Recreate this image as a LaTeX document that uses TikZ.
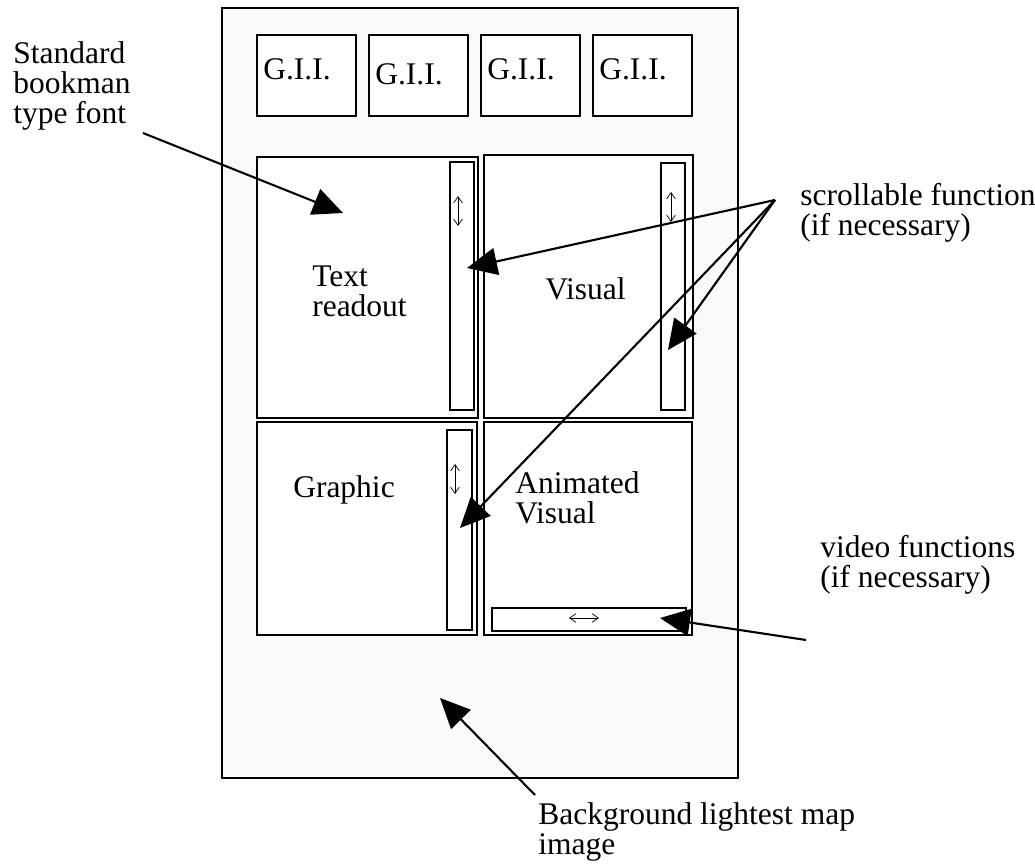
\documentclass[tikz,border=0pt]{standalone}
\usepackage{fontspec}
\setmainfont{Liberation Serif}
\usetikzlibrary{arrows.meta, positioning}

\begin{document}
\begin{tikzpicture}[x=0.025cm, y=-0.025cm,
    box/.style={draw, line width=1.3pt, fill=white},
    pointer/.style={line width=1.5pt, -{Triangle[length=7.5mm, width=6.8mm]}},
    scrollmark/.style={line width=0.5pt, {Straight Barb[length=1.6mm, width=2.2mm]}-{Straight Barb[length=1.6mm, width=2.2mm]}},
    label/.style={align=left, inner sep=0pt, anchor=north west, font=\fontsize{22.4}{21.3}\selectfont},
    word/.style={inner sep=0pt, anchor=base west, font=\fontsize{22.4}{21.3}\selectfont}]
    \useasboundingbox (0,0) rectangle (1035,866);

    % Fundo (pagina)
    \draw[line width=1.3pt, fill=gray!4] (222,8) rectangle (738,778);

    % G.I.I. no topo
    \draw[box] (257,35) rectangle (356,116);
    \draw[box] (369,35) rectangle (468,116);
    \draw[box] (481,35) rectangle (580,116);
    \draw[box] (593,35) rectangle (692,116);
    \node[word] (G1) at (263,80) {G.I.I.};
    \node[word] (G2) at (375,85) {G.I.I.};
    \node[word] (G3) at (487,80) {G.I.I.};
    \node[word] (G4) at (599,80) {G.I.I.};

    % Paineis
    \draw[box] (257,157) rectangle (478,418);
    \draw[box] (484,155) rectangle (693,418);
    \draw[box] (257,422) rectangle (477,635);
    \draw[box] (484,422) rectangle (692,635);

    % Barras de rolagem
    \draw[box] (450,162) rectangle (474,410);
    \draw[box] (661,163) rectangle (685,410);
    \draw[box] (447,430) rectangle (472,630);
    \draw[box] (492,608) rectangle (686,631);
    \draw[scrollmark] (458,196) -- (458,226);
    \draw[scrollmark] (671,192) -- (671,222);
    \draw[scrollmark] (455,464) -- (455,494);
    \draw[scrollmark] (569,618) -- (599,618);

    % Textos dos paineis
    \node[label] (T) at (312,266) {Text\\readout};
    \node[word] (V) at (545,300) {Visual};
    \node[word] (Gr) at (293,498) {Graphic};
    \node[label] (AV) at (515,471) {Animated\\Visual};

    % Rotulos externos
    \node[label] (font) at (13,41) {Standard\\bookman\\type font};
    \node[label] (scroll) at (800,183) {scrollable function\\(if necessary)};
    \node[label] (video) at (820,535) {video functions\\(if necessary)};
    \node[label] (bg) at (538,802) {Background lightest map\\image};

    % Pontos das setas
    \coordinate (f0) at (143,133);
    \coordinate (f1) at (343,213);
    \coordinate (s0) at (775,200);
    \coordinate (s1) at (467,268);
    \coordinate (s2) at (668,350);
    \coordinate (s3) at (460,528);
    \coordinate (v0) at (806,640);
    \coordinate (v1) at (660,618);
    \coordinate (b0) at (535,795);
    \coordinate (b1) at (440,698);

    % Setas
    \draw[pointer] (f0) -- (f1);
    \draw[pointer] (s0) -- (s1);
    \draw[pointer] (s0) -- (s2);
    \draw[pointer] (s0) -- (s3);
    \draw[pointer] (v0) -- (v1);
    \draw[pointer] (b0) -- (b1);

\end{tikzpicture}
\end{document}
